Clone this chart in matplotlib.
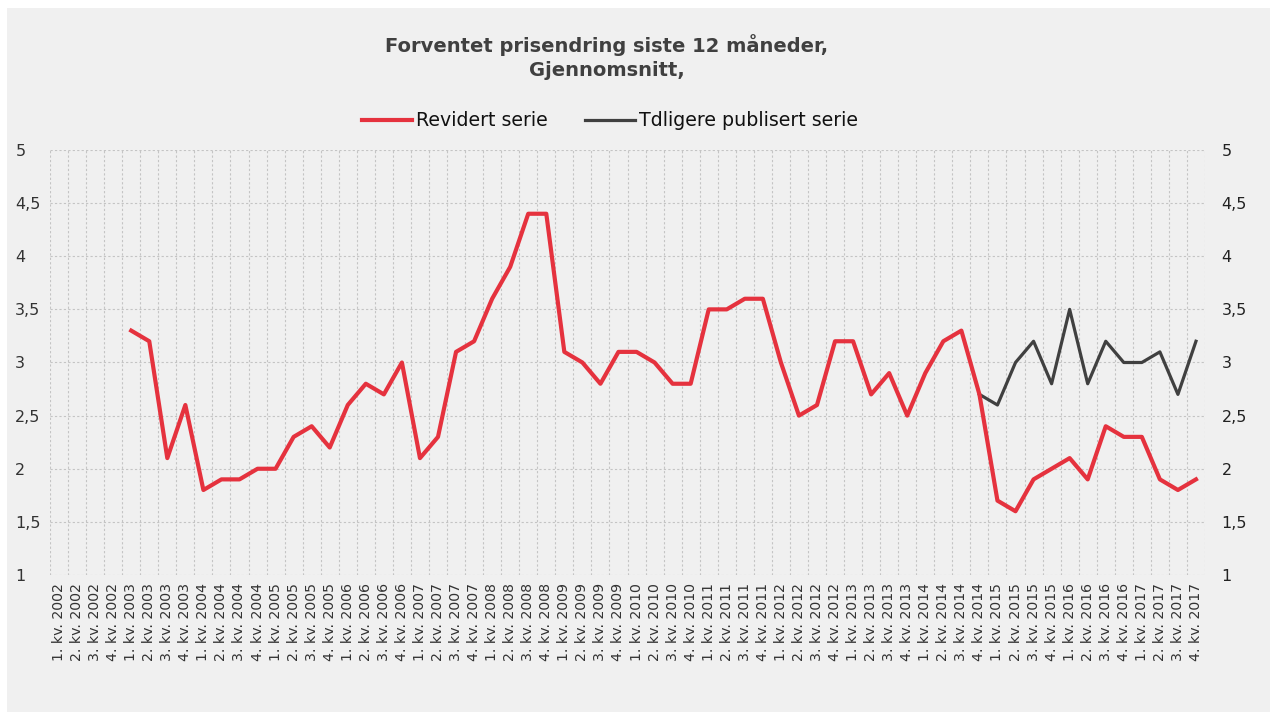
import numpy as np
import matplotlib.pyplot as plt
from matplotlib.patches import Rectangle

# kvartaler 1. kv. 2002 - 4. kv. 2017
years = list(range(2002, 2018))
quarters = [f"{q}. kv. {y}" for y in years for q in range(1, 5)]

# Revidert serie, fra 1. kv. 2003
revidert = [3.3, 3.2, 2.1, 2.6,
            1.8, 1.9, 1.9, 2.0,
            2.0, 2.3, 2.4, 2.2,
            2.6, 2.8, 2.7, 3.0,
            2.1, 2.3, 3.1, 3.2,
            3.6, 3.9, 4.4, 4.4,
            3.1, 3.0, 2.8, 3.1,
            3.1, 3.0, 2.8, 2.8,
            3.5, 3.5, 3.6, 3.6,
            3.0, 2.5, 2.6, 3.2,
            3.2, 2.7, 2.9, 2.5,
            2.9, 3.2, 3.3, 2.7,
            1.7, 1.6, 1.9, 2.0,
            2.1, 1.9, 2.4, 2.3,
            2.3, 1.9, 1.8, 1.9]
revidert_start = "1. kv. 2003"

# Tidligere publisert serie, fra 4. kv. 2014
tidligere = [2.7,
             2.6, 3.0, 3.2, 2.8,
             3.5, 2.8, 3.2, 3.0,
             3.0, 3.1, 2.7, 3.2]
tidligere_start = "4. kv. 2014"

yticks = [1, 1.5, 2, 2.5, 3, 3.5, 4, 4.5, 5]
ytick_labels = ["1", "1,5", "2", "2,5", "3", "3,5", "4", "4,5", "5"]

RED = "#e5323e"
DARK = "#404040"
BG = "#f0f0f0"

plt.rcParams["font.family"] = ["DejaVu Sans"]

fig = plt.figure(figsize=(12.7, 7.12), dpi=100)
fig.patch.set_facecolor("white")
fig.patches.append(Rectangle((7 / 1270, 0), 1 - 7 / 1270, 1 - 8 / 712,
                             transform=fig.transFigure, facecolor=BG,
                             edgecolor="none", zorder=-10))

ax = fig.add_axes([50 / 1270, 1 - 575 / 712, 1155 / 1270, 425 / 712])
ax.set_facecolor(BG)

x = np.arange(len(quarters))
i0 = quarters.index(revidert_start)
i1 = quarters.index(tidligere_start)

ax.plot(x[i1:i1 + len(tidligere)], tidligere, color=DARK, lw=2.3,
        label="Tdligere publisert serie", zorder=3)
ax.plot(x[i0:i0 + len(revidert)], revidert, color=RED, lw=3,
        label="Revidert serie", zorder=4)

ax.set_xlim(-0.5, len(quarters) - 0.5)
ax.set_ylim(1, 5)

# gridlines
for b in np.arange(-0.5, len(quarters), 1):
    ax.axvline(b, color="#c4c4c4", lw=0.8, ls=(0, (2, 2)), zorder=1)
for yv in yticks:
    ax.axhline(yv, color="#c4c4c4", lw=0.8, ls=(0, (2, 2)), zorder=1)

for s in ax.spines.values():
    s.set_visible(False)

ax.set_xticks(x)
ax.set_xticklabels(quarters, rotation=90, fontsize=10.2, color="#333333",
                   va="top", ha="center")
ax.tick_params(axis="x", length=0, pad=6)

ax.set_yticks(yticks)
ax.set_yticklabels(ytick_labels, fontsize=11.5, color="#333333")
for lab in ax.get_yticklabels():
    lab.set_horizontalalignment("left")
ax.tick_params(axis="y", length=0, pad=25)

ax2 = ax.twinx()
ax2.set_ylim(1, 5)
ax2.set_yticks(yticks)
ax2.set_yticklabels(ytick_labels, fontsize=11.5, color="#222222")
ax2.tick_params(axis="y", length=0, pad=12)
for s in ax2.spines.values():
    s.set_visible(False)

fig.text(607 / 1270, 1 - 57 / 712, "Forventet prisendring siste 12 måneder,\nGjennomsnitt,",
         ha="center", va="center", fontsize=14, fontweight="bold",
         color="#404040", linespacing=1.3)

handles, labels = ax.get_legend_handles_labels()
fig.legend(handles[::-1], labels[::-1], loc="center",
           bbox_to_anchor=(610 / 1270, 1 - 121 / 712), ncol=2, frameon=False,
           fontsize=13.7, handlelength=2.6, handletextpad=0.2,
           columnspacing=2.0, labelcolor="#111111")

fig.savefig("out.png", dpi=100, facecolor=fig.get_facecolor())
